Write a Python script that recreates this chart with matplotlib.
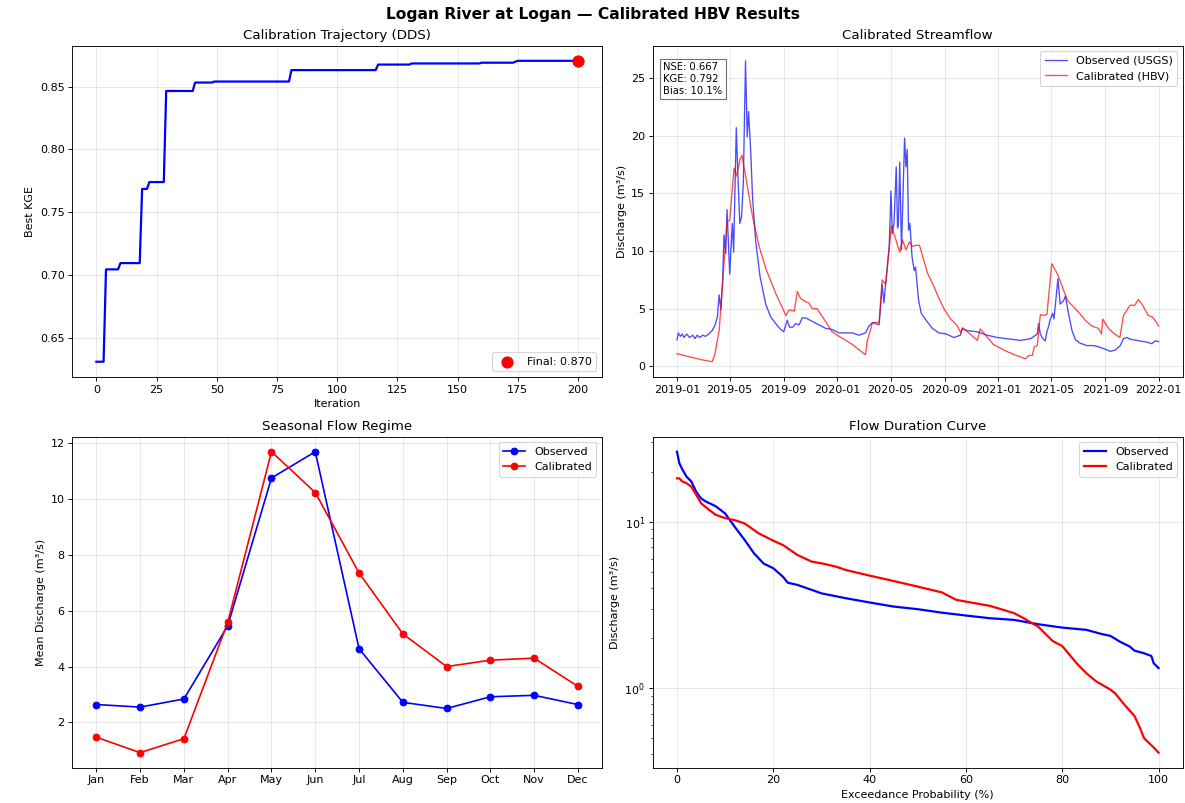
import numpy as np
import pandas as pd
import matplotlib
matplotlib.use("Agg")
import matplotlib.pyplot as plt
import matplotlib.dates as mdates

# --- calibration trajectory (best KGE so far) ---
iters = [0, 3, 4, 9, 10, 18, 19, 21, 22, 28, 29, 40, 41, 48, 49, 80, 81,
         116, 117, 130, 131, 159, 160, 173, 175, 200]
best_kge = [0.631, 0.631, 0.7045, 0.7045, 0.7095, 0.7095, 0.7685, 0.7685, 0.774,
            0.774, 0.8465, 0.8465, 0.8532, 0.8532, 0.854, 0.854, 0.8631,
            0.8631, 0.8675, 0.8675, 0.8684, 0.8684, 0.869, 0.869, 0.8705, 0.8705]
final_kge = 0.870

# --- streamflow (m3/s) ---
obs_dates = ["2019-01-01", "2019-01-04", "2019-01-09", "2019-01-13", "2019-01-17",
             "2019-01-23", "2019-01-30", "2019-02-06", "2019-02-11", "2019-02-16",
             "2019-02-22", "2019-03-01", "2019-03-07", "2019-03-14", "2019-03-22",
             "2019-03-29", "2019-04-03", "2019-04-07", "2019-04-11", "2019-04-15",
             "2019-04-18", "2019-04-22", "2019-04-25", "2019-05-01", "2019-05-07",
             "2019-05-10", "2019-05-16", "2019-05-19", "2019-05-24", "2019-05-28",
             "2019-06-01", "2019-06-06", "2019-06-10", "2019-06-13", "2019-06-18",
             "2019-06-22", "2019-06-29", "2019-07-09", "2019-07-22", "2019-08-02",
             "2019-08-14", "2019-08-25", "2019-09-01", "2019-09-09", "2019-09-14",
             "2019-09-22", "2019-09-28", "2019-10-06", "2019-10-13", "2019-10-21",
             "2019-11-05", "2019-11-20", "2019-12-05", "2019-12-20", "2020-01-05",
             "2020-01-20", "2020-02-04", "2020-02-19", "2020-03-05", "2020-03-13",
             "2020-03-21", "2020-04-05", "2020-04-09", "2020-04-12", "2020-04-16",
             "2020-04-20", "2020-04-28", "2020-05-02", "2020-05-05", "2020-05-09",
             "2020-05-14", "2020-05-17", "2020-05-19", "2020-05-22", "2020-05-26",
             "2020-06-02", "2020-06-05", "2020-06-08", "2020-06-11", "2020-06-14",
             "2020-06-19", "2020-06-24", "2020-06-27", "2020-07-04", "2020-07-10",
             "2020-07-21", "2020-08-04", "2020-08-19", "2020-09-05", "2020-09-22",
             "2020-10-07", "2020-10-11", "2020-10-22", "2020-11-14", "2020-12-07",
             "2020-12-30", "2021-01-21", "2021-02-21", "2021-03-16", "2021-03-31",
             "2021-04-03", "2021-04-07", "2021-04-11", "2021-04-18", "2021-04-22",
             "2021-04-26", "2021-04-29", "2021-05-05", "2021-05-08", "2021-05-12",
             "2021-05-17", "2021-05-22", "2021-05-30", "2021-06-03", "2021-06-10",
             "2021-06-18", "2021-06-26", "2021-07-07", "2021-07-22", "2021-08-06",
             "2021-08-17", "2021-09-01", "2021-09-13", "2021-09-24", "2021-10-06",
             "2021-10-13", "2021-10-21", "2021-10-29", "2021-11-13", "2021-12-05",
             "2021-12-17", "2021-12-24", "2022-01-01"]
obs_q = [2.3, 2.9, 2.6, 2.8, 2.5, 2.8, 2.5, 2.7, 2.4, 2.7,
         2.5, 2.7, 2.6, 2.8, 3.1, 3.6, 4.3, 6.2, 4.9, 7.5,
         11.4, 9.8, 13.6, 8.0, 12.4, 9.9, 20.7, 17.3, 12.4, 13.0,
         15.9, 26.5, 19.9, 22.1, 18.5, 14.7, 10.9, 7.8, 5.4, 4.3,
         3.7, 3.2, 3.0, 4.0, 3.4, 3.4, 3.7, 3.6, 4.2, 4.2,
         3.9, 3.6, 3.3, 3.2, 2.9, 2.9, 2.9, 2.7, 2.9, 3.5,
         3.8, 3.6, 5.5, 7.1, 5.5, 7.2, 10.4, 15.2, 11.5, 12.4,
         17.3, 12.0, 12.4, 17.7, 10.1, 19.8, 17.3, 18.8, 11.8, 12.4,
         9.5, 8.3, 8.6, 5.7, 4.6, 4.0, 3.3, 2.9, 2.8, 2.5,
         2.7, 3.25, 3.1, 3.0, 2.7, 2.5, 2.4, 2.25, 2.4, 2.8,
         3.7, 2.8, 2.5, 2.2, 3.0, 3.5, 4.0, 4.6, 4.1, 5.7,
         7.6, 5.4, 5.7, 6.1, 4.6, 3.1, 2.3, 2.0, 1.8, 1.8,
         1.7, 1.5, 1.3, 1.4, 1.8, 2.4, 2.5, 2.35, 2.25, 2.1,
         1.96, 2.2, 2.15]

sim_dates = ["2019-01-01", "2019-02-01", "2019-03-01", "2019-03-22", "2019-03-28",
             "2019-04-07", "2019-04-18", "2019-04-25", "2019-05-01", "2019-05-11",
             "2019-05-16", "2019-05-25", "2019-05-29", "2019-06-03", "2019-06-22",
             "2019-07-07", "2019-07-22", "2019-08-14", "2019-09-06", "2019-09-13",
             "2019-09-25", "2019-10-02", "2019-10-09", "2019-10-21", "2019-10-28",
             "2019-11-05", "2019-11-16", "2019-12-05", "2019-12-20", "2020-01-05",
             "2020-02-04", "2020-03-05", "2020-03-09", "2020-03-21", "2020-04-05",
             "2020-04-12", "2020-04-20", "2020-05-03", "2020-05-13", "2020-05-22",
             "2020-05-28", "2020-06-05", "2020-06-13", "2020-06-20", "2020-06-28",
             "2020-07-06", "2020-07-24", "2020-08-08", "2020-08-19", "2020-09-01",
             "2020-09-15", "2020-09-30", "2020-10-08", "2020-10-12", "2020-11-15",
             "2020-11-21", "2020-12-21", "2021-01-20", "2021-02-14", "2021-03-04",
             "2021-03-12", "2021-03-20", "2021-03-24", "2021-03-31", "2021-04-07",
             "2021-04-15", "2021-04-22", "2021-05-03", "2021-05-16", "2021-05-27",
             "2021-06-08", "2021-07-03", "2021-07-18", "2021-08-02", "2021-08-17",
             "2021-08-24", "2021-08-27", "2021-09-09", "2021-09-20", "2021-10-05",
             "2021-10-13", "2021-10-28", "2021-11-08", "2021-11-16", "2021-11-24",
             "2021-12-09", "2021-12-17", "2021-12-24", "2022-01-01"]
sim_q = [1.1, 0.8, 0.55, 0.4, 1.0,
         3.1, 8.9, 12.5, 12.7, 17.2,
         16.5, 18.0, 18.3, 17.2, 13.0,
         10.4, 8.5, 6.3, 4.4, 4.9,
         4.8, 6.5, 5.9, 5.6, 5.5,
         5.0, 5.0, 3.9, 3.0, 2.6,
         1.9, 1.0, 2.2, 3.8, 3.8,
         7.5, 7.1, 12.2, 11.0, 9.9,
         11.0, 10.1, 10.8, 10.4, 10.5,
         10.5, 8.1, 6.9, 5.9, 4.9,
         4.1, 3.5, 2.9, 3.35, 2.25,
         3.25, 1.9, 1.3, 0.9, 0.66,
         0.95, 0.95, 1.7, 1.8, 4.5,
         4.4, 4.5, 8.9, 8.0, 6.9,
         5.7, 4.7, 4.0, 3.5, 3.3,
         2.8, 4.1, 3.3, 2.9, 2.5,
         4.4, 5.3, 5.3, 5.8, 5.4,
         4.4, 4.3, 4.0, 3.5]

nse, kge, bias = 0.667, 0.792, 10.1

# --- seasonal regime ---
months = ["Jan", "Feb", "Mar", "Apr", "May", "Jun",
          "Jul", "Aug", "Sep", "Oct", "Nov", "Dec"]
obs_monthly = [2.64, 2.55, 2.84, 5.46, 10.75, 11.69, 4.64, 2.72, 2.50, 2.92, 2.97, 2.64]
sim_monthly = [1.47, 0.92, 1.42, 5.58, 11.69, 10.23, 7.35, 5.17, 4.00, 4.23, 4.30, 3.29]

# --- flow duration curve ---
obs_exc = [0, 0.5, 1, 2, 3, 4, 5, 6, 8, 10, 12, 14, 16, 18, 20, 22, 23, 25, 28, 30,
           35, 40, 45, 50, 55, 60, 65, 70, 75, 80, 85, 88, 90, 92, 94, 95, 97,
           98.5, 99, 100]
obs_fdc = [26.3, 22.4, 20.9, 18.6, 17.4, 15.1, 13.8, 13.2, 12.4, 11.2, 9.3, 7.8,
           6.45, 5.6, 5.25, 4.67, 4.3, 4.17, 3.89, 3.71, 3.47, 3.27, 3.09, 2.98,
           2.84, 2.73, 2.63, 2.57, 2.42, 2.31, 2.24, 2.12, 2.06, 1.9, 1.78, 1.68,
           1.62, 1.56, 1.41, 1.32]
sim_exc = [0, 0.5, 1, 2, 3, 4, 5, 6, 8, 10, 12, 14, 15, 17, 20, 22, 25, 28, 30, 33,
           35, 40, 45, 50, 55, 58, 60, 65, 70, 72, 75, 78, 80, 83, 85, 87, 90, 91,
           93, 95, 96, 97, 99, 100]
sim_fdc = [18.2, 18.2, 17.5, 17.0, 16.2, 14.5, 12.9, 12.2, 11.0, 10.5, 10.2, 9.77,
           9.33, 8.5, 7.68, 7.24, 6.31, 5.75, 5.62, 5.37, 5.13, 4.74, 4.4, 4.07,
           3.76, 3.39, 3.31, 3.12, 2.82, 2.63, 2.34, 1.92, 1.79, 1.41, 1.23, 1.1,
           0.98, 0.93, 0.79, 0.68, 0.59, 0.50, 0.44, 0.41]

fig, axes = plt.subplots(2, 2, figsize=(14.8125, 10.0375), dpi=80)
plt.subplots_adjust(left=0.061, right=0.998, top=0.943, bottom=0.044,
                    wspace=0.096, hspace=0.181)
fig.suptitle("Logan River at Logan \u2014 Calibrated HBV Results",
             fontsize=14, fontweight="bold", y=0.991)

# trajectory
ax = axes[0, 0]
ax.plot(iters, best_kge, color="blue", linewidth=2)
ax.scatter([iters[-1]], [final_kge], color="red", s=100, zorder=5,
           label=f"Final: {final_kge:.3f}")
ax.set_xlabel("Iteration")
ax.set_ylabel("Best KGE")
ax.set_title("Calibration Trajectory (DDS)")
ax.legend(loc="lower right")
ax.grid(True, alpha=0.3)

# streamflow
ax = axes[0, 1]
ax.plot(pd.to_datetime(obs_dates), obs_q, color="blue", alpha=0.7,
        linewidth=1.2, label="Observed (USGS)")
ax.plot(pd.to_datetime(sim_dates), sim_q, color="red", alpha=0.7,
        linewidth=1.2, label="Calibrated (HBV)")
ax.set_ylabel("Discharge (m\u00b3/s)")
ax.set_title("Calibrated Streamflow")
ax.legend(loc="upper right")
ax.grid(True, alpha=0.3)
ax.xaxis.set_major_locator(mdates.MonthLocator(bymonth=[1, 5, 9]))
ax.xaxis.set_major_formatter(mdates.DateFormatter("%Y-%m"))
ax.text(0.02, 0.95, f"NSE: {nse:.3f}\nKGE: {kge:.3f}\nBias: {bias:.1f}%",
        transform=ax.transAxes, va="top", fontsize=9,
        bbox=dict(boxstyle="square", facecolor="white", edgecolor="0.3", alpha=0.8))

# seasonal
ax = axes[1, 0]
x = np.arange(1, 13)
ax.plot(x, obs_monthly, "o-", color="blue", linewidth=1.5, markersize=6, label="Observed")
ax.plot(x, sim_monthly, "o-", color="red", linewidth=1.5, markersize=6, label="Calibrated")
ax.set_xticks(x)
ax.set_xticklabels(months)
ax.set_ylabel("Mean Discharge (m\u00b3/s)")
ax.set_title("Seasonal Flow Regime")
ax.legend(loc="upper right")
ax.grid(True, alpha=0.3)

# flow duration curve
ax = axes[1, 1]
ax.semilogy(obs_exc, obs_fdc, color="blue", linewidth=2, label="Observed")
ax.semilogy(sim_exc, sim_fdc, color="red", linewidth=2, label="Calibrated")
ax.set_xlabel("Exceedance Probability (%)")
ax.set_ylabel("Discharge (m\u00b3/s)")
ax.set_title("Flow Duration Curve")
ax.legend(loc="upper right")
ax.grid(True, alpha=0.3)

fig.savefig("out.png", dpi=80)
